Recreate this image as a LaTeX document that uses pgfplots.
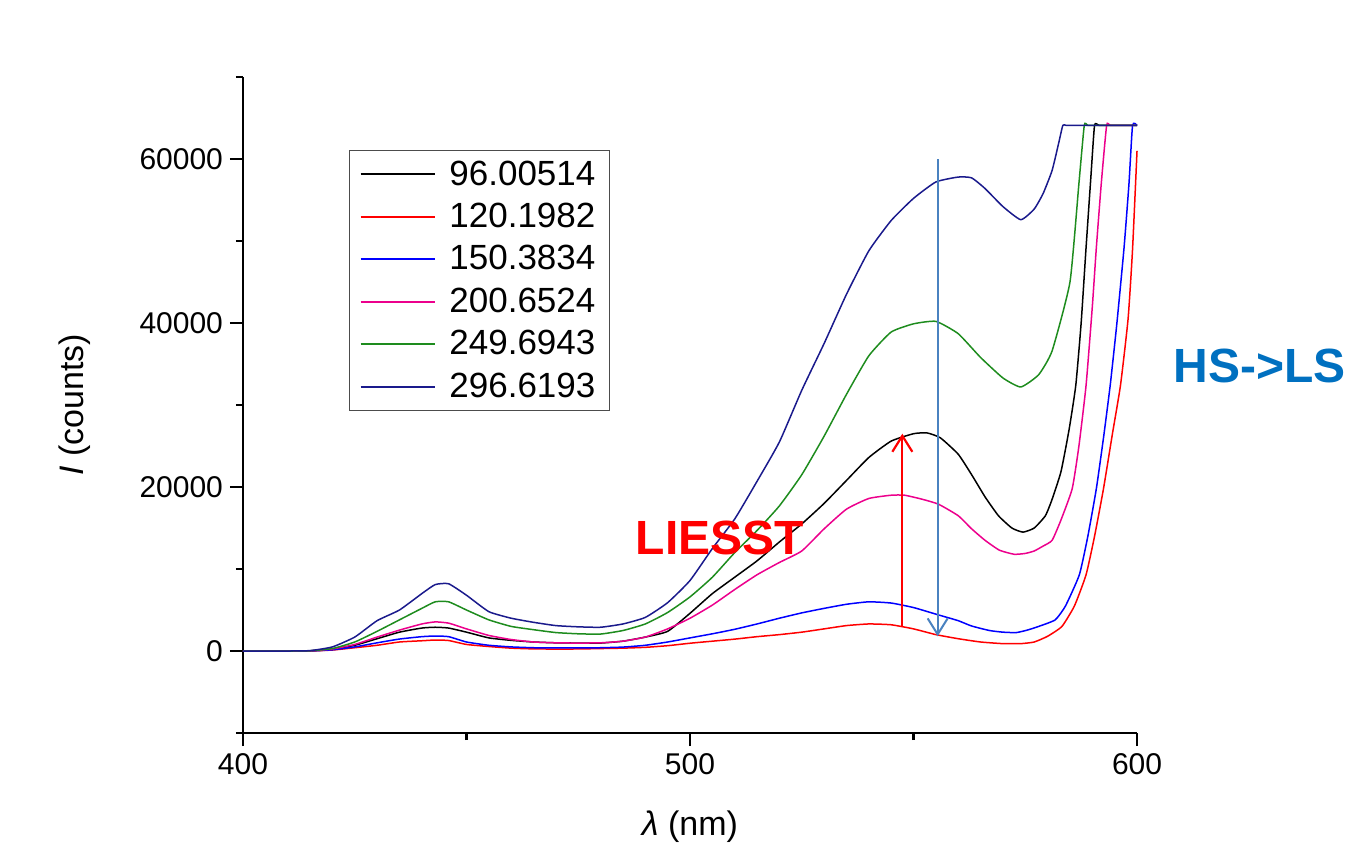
\documentclass[border=0pt]{standalone}
\usepackage{fontspec}
\setmainfont{Liberation Sans}
\usepackage{pgfplots}
\usepackage{pgfplotstable}
\pgfplotsset{compat=1.18}
\usetikzlibrary{arrows.meta}

\definecolor{cnavy}{HTML}{1A1A8C}
\definecolor{cgreen}{HTML}{1E8C1E}
\definecolor{arrowblue}{HTML}{4A82C0}
\definecolor{hsblue}{HTML}{0070C0}

% 96.00514
\pgfplotstableread{
x y
400 0
410 0
415 20
420 200
425 700
430 1500
435 2300
440 2800
443 2900
446 2800
450 2300
455 1600
460 1300
465 1100
470 1000
475 970
480 970
485 1200
490 1700
495 2400
500 4600
505 7000
510 9000
515 11000
520 13300
525 15500
530 18000
535 20800
540 23600
545 25600
550 26500
553 26600
556 26000
560 24000
563 21500
566 18800
569 16500
572 15000
574.5 14500
577 15000
579.5 16500
581 18500
583 21900
584.8 27000
586.3 32400
587.5 40000
588.6 49200
589.7 58000
590.5 64100
591.5 64100
595 64100
600 64100
}\tblack

% 120.1982
\pgfplotstableread{
x y
400 0
410 0
415 10
420 120
425 400
430 700
435 1100
440 1250
443 1340
446 1280
450 800
455 550
460 350
465 260
470 240
475 250
480 300
485 350
490 450
495 650
500 950
505 1200
510 1450
515 1750
520 2000
525 2300
530 2700
535 3100
540 3300
545 3200
550 2700
555 2000
560 1500
565 1100
570 900
574 900
577 1100
580 1800
583.2 3000
586 5500
588.6 9300
590.5 14000
592.5 19800
594.5 26500
596.3 32400
598 40500
599 49000
600 61000
}\tred

% 150.3834
\pgfplotstableread{
x y
400 0
410 0
415 10
420 150
425 500
430 1000
435 1460
440 1750
443 1830
446 1750
450 1100
455 700
460 500
465 400
470 370
475 370
480 400
485 480
490 700
495 1100
500 1600
505 2100
510 2650
515 3300
520 4000
525 4650
530 5200
535 5700
540 6000
545 5850
550 5300
555.6 4400
560 3700
563 3050
567 2500
570 2300
573 2250
575.5 2560
578 3000
581.7 3800
584 5500
587.1 9300
589 14000
590.9 19800
592.5 26000
594 32400
595.5 40000
597.1 49200
598.2 57000
599 64100
600 64100
}\tblue

% 200.6524
\pgfplotstableread{
x y
400 0
410 0
415 20
420 250
425 800
430 1700
435 2550
440 3300
443 3550
446 3400
450 2700
455 1900
460 1400
465 1100
470 1000
475 970
480 1000
485 1200
490 1700
495 2700
500 4000
505 5600
510 7500
515 9300
520 10800
525 12200
530 14900
535 17300
540 18600
545 19000
548 19000
552 18500
555.6 17900
560 16500
563 14900
566 13500
569.2 12300
572.5 11800
575 11900
577 12200
579 12800
581 13500
583 16000
585.5 19800
587 25000
588.6 32400
590 42000
590.9 49200
592 57000
593.2 64100
594 64100
597 64100
600 64100
}\tmagenta

% 249.6943
\pgfplotstableread{
x y
400 0
410 0
415 30
420 300
425 1100
430 2400
435 3800
440 5200
443 6000
446 6000
450 5000
455 3800
460 3000
465 2600
470 2250
475 2100
480 2070
485 2500
490 3300
495 4700
500 6600
505 9000
510 12000
515 14700
520 17700
525 21500
530 26200
535 31300
540 36000
545 38900
550 39900
555 40200
560 38700
565 35800
570 33300
574 32200
578 33700
581 36600
585 45000
587 57000
588.2 64100
589 64100
592 64100
596 64100
600 64100
}\tgreen

% 296.6193
\pgfplotstableread{
x y
400 0
410 0
415 50
420 500
425 1700
430 3700
435 5000
440 7000
443 8100
446 8200
450 6800
455 4800
460 4000
465 3500
470 3100
475 2950
480 2900
485 3300
490 4100
495 5900
500 8600
505 12500
510 16100
515 20700
520 25500
525 31800
530 37500
535 43500
540 48800
545 52500
550 55200
555 57200
560 57800
563 57700
566 56400
570 54200
574 52600
577 53900
579 55800
581 58600
582.5 62000
583.4 64100
584.2 64100
588 64100
594 64100
600 64100
}\tnavy

\begin{document}
\begin{tikzpicture}
\begin{axis}[
  scale only axis,
  width=447pt, height=328pt,
  xmin=400, xmax=600, ymin=-10000, ymax=70000,
  axis lines*=left,
  axis line style={line width=1.1pt},
  xtick={400,500,600}, minor xtick={450,550},
  ytick={0,20000,40000,60000},
  minor ytick={-10000,10000,30000,50000,70000},
  tick align=outside,
  major tick length=6.5pt, minor tick length=3.5pt,
  tick style={black, line width=1.1pt},
  scaled y ticks=false,
  /pgf/number format/1000 sep={},
  /pgf/number format/assume math mode=true,
  tick label style={font=\fontsize{15}{18}\selectfont},
  xlabel={\textit{λ} (nm)},
  ylabel={\textit{I} (counts)},
  label style={font=\fontsize{17}{20}\selectfont},
  xlabel style={at={(axis description cs:0.5,-0.143)}, anchor=center},
  ylabel style={at={(axis description cs:-0.188,0.5)}, anchor=center},
  clip=false,
  every axis plot/.append style={line width=0.75pt, smooth, tension=0.3},
  legend cell align=left,
  legend image code/.code={%
    \draw[#1, sharp plot, line width=1pt] (0pt,0pt) -- (37pt,0pt);
    \path (42pt,0pt);},
  legend style={at={(rel axis cs:0.1186,0.8887)}, anchor=north west,
    draw=black!70, line width=0.6pt,
    font=\fontsize{17.5}{20}\selectfont,
    row sep=3.5pt, inner xsep=5pt, inner ysep=3pt},
]
\addplot[black] table {\tblack};
\addlegendentry{96.00514}
\addplot[red] table {\tred};
\addlegendentry{120.1982}
\addplot[blue] table {\tblue};
\addlegendentry{150.3834}
\addplot[magenta] table {\tmagenta};
\addlegendentry{200.6524}
\addplot[cgreen] table {\tgreen};
\addlegendentry{249.6943}
\addplot[cnavy] table {\tnavy};
\addlegendentry{296.6193}

\draw[red, line width=1.1pt, -{Straight Barb[length=8pt,width=10pt]}]
  (axis cs:547.5,2900) -- (axis cs:547.5,26500);
\draw[arrowblue, line width=1pt, -{Straight Barb[length=8pt,width=10pt]}]
  (axis cs:555.4,60000) -- (axis cs:555.4,1800);
\node[red, font=\bfseries\fontsize{24}{28}\selectfont] at (axis cs:506.7,13800) {LIESST};
\node[hsblue, font=\bfseries\fontsize{24}{28}\selectfont] at (axis cs:627.5,34750) {HS->LS};

\coordinate (bbl) at (rel axis cs:-0.2718,-0.1723);
\coordinate (btr) at (rel axis cs:1.2427,1.1174);
\end{axis}
\pgfresetboundingbox
\path[use as bounding box] (bbl) rectangle (btr);
\end{tikzpicture}
\end{document}
